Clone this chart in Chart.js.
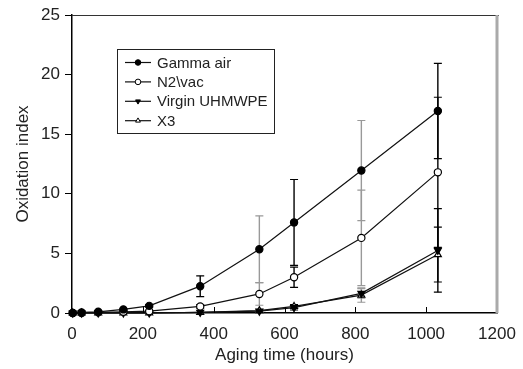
<!DOCTYPE html>
<html>
<head>
<meta charset="utf-8">
<script src="https://cdn.jsdelivr.net/npm/chart.js@4/dist/chart.umd.min.js"></script>
<style>
  html, body { margin: 0; padding: 0; background: #fff; }
  #wrap { width: 523px; height: 369px; }
</style>
</head>
<body>
<div id="wrap"><canvas id="oxChart" width="523" height="369"></canvas></div>
<script>
// aging time in hours
var hours = [2, 27, 74, 145, 218, 362, 529, 627, 817, 1033];

// oxidation index for each material
var gammaAir = [0, 0.05, 0.1, 0.3, 0.6, 2.25, 5.35, 7.6, 11.95, 16.95];
var n2Vac    = [0, 0, 0.05, 0.1, 0.15, 0.55, 1.6, 3.0, 6.3, 11.8];
var virgin   = [0, 0, 0, 0, 0, 0.05, 0.15, 0.45, 1.65, 5.25];
var x3       = [0, 0, 0, 0, 0, 0.05, 0.2, 0.55, 1.5, 4.9];

// +/- error
var gammaErr  = [0, 0, 0, 0.05, 0.1, 0.87, 2.8, 3.6, 4.2, 4.0];
var n2Err     = [0, 0, 0, 0, 0.05, 0.15, 0.95, 0.85, 4.0, 6.3];
var virginErr = [0, 0, 0, 0, 0, 0, 0.1, 0.2, 0.4, 3.5];
var x3Err     = [0, 0, 0, 0, 0, 0, 0.1, 0.15, 0.6, 2.3];

var seriesNames = ['Gamma air', 'N2\\vac', 'Virgin UHMWPE', 'X3'];
var xTicks = [0, 200, 400, 600, 800, 1000, 1200];
var yTicks = [0, 5, 10, 15, 20, 25];

// error bar colour per time point
var errColors = ['#000', '#000', '#000', '#000', '#000', '#000', '#999', '#000', '#999', '#000'];

var FONT = '"Liberation Sans", Arial, sans-serif';

function toPoints(ys, errs) {
    var pts = [];
    for (var i = 0; i < hours.length; i++) {
        pts.push({x: hours[i], y: ys[i], err: errs[i]});
    }
    return pts;
}

function makeSet(label, ys, errs, style, fill, rot) {
    return {
        label: label,
        data: toPoints(ys, errs),
        showLine: true,
        borderColor: '#111',
        borderWidth: 1.2,
        pointStyle: style,
        pointRotation: rot,
        pointRadius: style == 'triangle' ? 4 : 3.6,
        pointBorderWidth: 1.2,
        pointBorderColor: '#000',
        pointBackgroundColor: fill,
        clip: false
    };
}

var errorBars = {
    id: 'errorBars',
    beforeDatasetsDraw: function(chart) {
        var ctx = chart.ctx, xs = chart.scales.x, ys = chart.scales.y;
        ctx.save();
        chart.data.datasets.forEach(function(ds) {
            ds.data.forEach(function(p, i) {
                if (!p.err) return;
                var px = xs.getPixelForValue(p.x);
                var top = ys.getPixelForValue(p.y + p.err);
                var bot = ys.getPixelForValue(Math.max(p.y - p.err, 0));
                ctx.strokeStyle = errColors[i];
                ctx.lineWidth = 1.4;
                ctx.beginPath();
                ctx.moveTo(px, top); ctx.lineTo(px, bot);
                ctx.stroke();
                ctx.lineWidth = 1.2;
                ctx.beginPath();
                ctx.moveTo(px - 4, top); ctx.lineTo(px + 4, top);
                ctx.moveTo(px - 4, bot); ctx.lineTo(px + 4, bot);
                ctx.stroke();
            });
        });
        ctx.restore();
    }
};

var frameAndLegend = {
    id: 'frameAndLegend',
    afterDraw: function(chart) {
        var ctx = chart.ctx, a = chart.chartArea, xs = chart.scales.x;
        ctx.save();
        // top and right frame
        ctx.strokeStyle = '#333';
        ctx.lineWidth = 1;
        ctx.beginPath();
        ctx.moveTo(a.left, a.top + 0.5); ctx.lineTo(a.right + 2, a.top + 0.5);
        ctx.stroke();
        ctx.strokeStyle = '#aaa';
        ctx.lineWidth = 3;
        ctx.beginPath();
        ctx.moveTo(a.right, a.top); ctx.lineTo(a.right, a.bottom);
        ctx.stroke();
        // inner x ticks
        ctx.strokeStyle = '#000';
        ctx.lineWidth = 1;
        xTicks.forEach(function(t) {
            if (t == 0 || t == 1200) return;
            var px = Math.round(xs.getPixelForValue(t)) + 0.5;
            ctx.beginPath();
            ctx.moveTo(px, a.bottom); ctx.lineTo(px, a.bottom - 6);
            ctx.stroke();
        });

        // legend box
        var bx = 117.5, by = 49.5, bw = 157, bh = 84;
        ctx.strokeStyle = '#222';
        ctx.lineWidth = 1;
        ctx.strokeRect(bx, by, bw, bh);
        ctx.font = '15px ' + FONT;
        ctx.textBaseline = 'middle';
        ctx.textAlign = 'left';
        chart.data.datasets.forEach(function(ds, i) {
            var ry = 62.5 + i * 19.4;
            ctx.strokeStyle = '#111';
            ctx.lineWidth = 1.2;
            ctx.beginPath();
            ctx.moveTo(125, ry); ctx.lineTo(151, ry);
            ctx.stroke();
            ctx.fillStyle = ds.pointBackgroundColor;
            ctx.strokeStyle = '#000';
            ctx.lineWidth = 1;
            Chart.helpers.drawPoint(ctx, {
                pointStyle: ds.pointStyle,
                rotation: ds.pointRotation || 0,
                radius: 2.8,
                borderWidth: 1
            }, 138, ry);
            ctx.fillStyle = '#222';
            ctx.fillText(ds.label, 157, ry + 1);
        });
        ctx.restore();
    }
};

var ctx = document.getElementById('oxChart');
var chart = new Chart(ctx, {
    type: 'scatter',
    data: {
        datasets: [
            makeSet(seriesNames[0], gammaAir, gammaErr, 'circle', '#000', 0),
            makeSet(seriesNames[1], n2Vac, n2Err, 'circle', '#fff', 0),
            makeSet(seriesNames[2], virgin, virginErr, 'triangle', '#000', 180),
            makeSet(seriesNames[3], x3, x3Err, 'triangle', '#fff', 0)
        ]
    },
    options: {
        responsive: false,
        animation: false,
        layout: { padding: { top: 15, right: 26, left: 0, bottom: 0 } },
        plugins: {
            legend: { display: false },
            tooltip: { enabled: false }
        },
        scales: {
            x: {
                type: 'linear',
                min: 0, max: 1200,
                afterBuildTicks: function(s) { s.ticks = xTicks.map(function(v) { return {value: v}; }); },
                afterFit: function(s) {
                    s.height = 56;
                    // the label overflow is already covered by the layout padding
                    s.paddingLeft = 0;
                    s.paddingRight = 0;
                },
                grid: { drawOnChartArea: false, drawTicks: false },
                border: { color: '#000', width: 1.5 },
                ticks: {
                    padding: 11, color: '#222', maxRotation: 0,
                    font: { family: FONT, size: 17 },
                    callback: function(v) { return String(v); }
                },
                title: { display: true, text: 'Aging time (hours)', color: '#222', padding: { top: 0, bottom: 3 }, font: { family: FONT, size: 17 } }
            },
            y: {
                type: 'linear',
                min: 0, max: 25,
                afterBuildTicks: function(s) { s.ticks = yTicks.map(function(v) { return {value: v}; }); },
                afterFit: function(s) {
                    s.width = 72;
                    s.paddingTop = 0;
                    s.paddingBottom = 0;
                },
                grid: { drawOnChartArea: false, drawTicks: true, tickLength: 7, color: '#000' },
                border: { color: '#000', width: 1.5 },
                ticks: {
                    padding: 5, color: '#222',
                    font: { family: FONT, size: 17 },
                    callback: function(v) { return String(v); }
                },
                title: { display: true, text: 'Oxidation index', color: '#222', padding: { top: 13, bottom: 0 }, font: { family: FONT, size: 17 } }
            }
        }
    },
    plugins: [errorBars, frameAndLegend]
});
</script>
</body>
</html>
